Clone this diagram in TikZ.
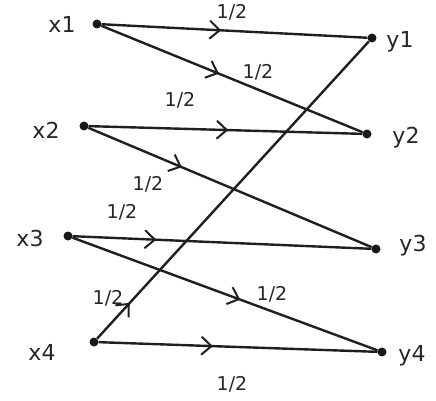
\documentclass[tikz,border=0pt]{standalone}
\usepackage{fontspec}
\setmainfont{DejaVu Sans}
\usetikzlibrary{decorations.markings,arrows.meta}
\begin{document}
\begin{tikzpicture}[x=1pt,y=-1pt,
  dot/.style={circle,fill=black!90,inner sep=0pt,minimum size=9pt},
  lab/.style={font=\fontsize{22}{24}\selectfont,text=black!85},
  wlab/.style={font=\fontsize{19}{21}\selectfont,text=black!85},
  edge/.style={line width=2.4pt,draw=black!88,
    postaction={decorate,decoration={markings,mark=at position #1 with {\arrow{Straight Barb[length=10pt,width=18pt,line width=2pt]}}}}},
  edge/.default=0.45]
\useasboundingbox (0,0) rectangle (436,401);
\node[dot] (x1) at (97,24) {};
\node[dot] (x2) at (84,126) {};
\node[dot] (x3) at (68,236) {};
\node[dot] (x4) at (94,342) {};
\node[dot] (y1) at (372,38) {};
\node[dot] (y2) at (367,134) {};
\node[dot] (y3) at (376,249) {};
\node[dot] (y4) at (382,352) {};
\node[lab] (lx1) at (62,24) {x1};
\node[lab] (lx2) at (46,130) {x2};
\node[lab] (lx3) at (30,238) {x3};
\node[lab] (lx4) at (42,352) {x4};
\node[lab] (ly1) at (400,42) {y1};
\node[lab] (ly2) at (406,138) {y2};
\node[lab] (ly3) at (413,246) {y3};
\node[lab] (ly4) at (412,356) {y4};
\draw[edge=0.45] (x1) -- (y1);
\draw[edge=0.45] (x1) -- (y2);
\draw[edge=0.51] (x2) -- (y2);
\draw[edge=0.33] (x2) -- (y3);
\draw[edge=0.28] (x3) -- (y3);
\draw[edge=0.55] (x3) -- (y4);
\draw[edge=0.41] (x4) -- (y4);
\draw[edge=0.12] (x4) -- (y1);
\node[wlab] (w1) at (232,12) {1/2};
\node[wlab] (w2) at (258,72) {1/2};
\node[wlab] (w3) at (180,100) {1/2};
\node[wlab] (w4) at (148,184) {1/2};
\node[wlab] (w5) at (122,212) {1/2};
\node[wlab] (w6) at (272,294) {1/2};
\node[wlab] (w7) at (232,384) {1/2};
\node[wlab] (w8) at (108,298) {1/2};
\end{tikzpicture}
\end{document}
